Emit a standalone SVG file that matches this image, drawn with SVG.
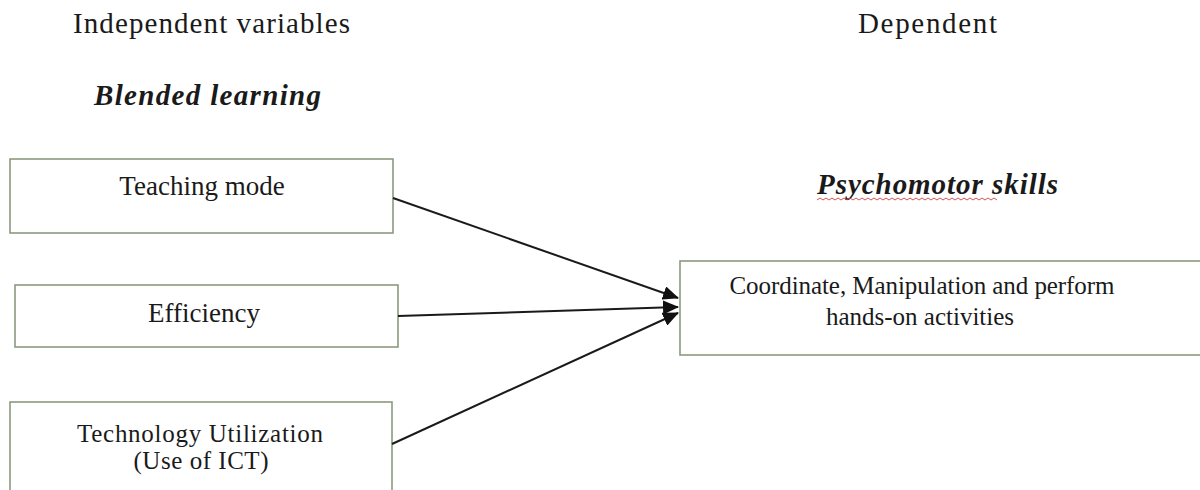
<svg xmlns="http://www.w3.org/2000/svg" width="1200" height="490" viewBox="0 0 1200 490">
<style>
.box{fill:#ffffff;stroke:#8c9a80;stroke-width:1.6}
.t{font-family:"Liberation Serif","Times New Roman",serif;fill:#1a1a1a;text-anchor:middle}
.h{font-family:"Liberation Serif","Times New Roman",serif;fill:#1a1a1a;font-size:29px}
.bi{font-weight:bold;font-style:italic}
.c{stroke:#1a1a1a;stroke-width:2;fill:none}
</style>
<defs>
<marker id="ah" markerWidth="16" markerHeight="14" refX="15" refY="7" orient="auto" markerUnits="userSpaceOnUse">
<path d="M0,0 L16,7 L0,14 Z" fill="#111"/>
</marker>
</defs>
<rect width="1200" height="490" fill="#ffffff"/>
<g id="headings">
<text class="h" x="73" y="33" textLength="277">Independent variables</text>
<text class="h" x="858" y="33" textLength="139">Dependent</text>
<text class="h bi" x="94" y="105" textLength="227">Blended learning</text>
<text class="h bi" x="817" y="194" textLength="241">Psychomotor skills</text>
<path d="M817,200 l3,-2 l3,2 l3,-2 l3,2 l3,-2 l3,2 l3,-2 l3,2 l3,-2 l3,2 l3,-2 l3,2 l3,-2 l3,2 l3,-2 l3,2 l3,-2 l3,2 l3,-2 l3,2 l3,-2 l3,2 l3,-2 l3,2 l3,-2 l3,2 l3,-2 l3,2 l3,-2 l3,2 l3,-2 l3,2 l3,-2 l3,2 l3,-2 l3,2 l3,-2 l3,2 l3,-2 l3,2 l3,-2 l3,2 l3,-2 l3,2 l3,-2 l3,2 l3,-2 l3,2 l3,-2 l3,2 l3,-2 l3,2 l3,-2 l3,2 l3,-2 l3,2 l3,-2 l3,2 l3,-2 l3,2" fill="none" stroke="#d04040" stroke-width="0.9"/>
</g>
<g id="teaching-mode">
<rect class="box" x="10" y="159" width="383" height="74"/>
<text class="t" x="202" y="195" font-size="27">Teaching mode</text>
</g>
<g id="efficiency">
<rect class="box" x="15" y="285" width="383" height="62"/>
<text class="t" x="204" y="322" font-size="27">Efficiency</text>
</g>
<g id="technology-utilization">
<rect class="box" x="10" y="402" width="382" height="100"/>
<text class="t" x="200" y="442" font-size="25" textLength="246">Technology Utilization</text>
<text class="t" x="201" y="469" font-size="25" textLength="135">(Use of ICT)</text>
</g>
<g id="psychomotor">
<rect class="box" x="680" y="261" width="530" height="94"/>
<text class="t" x="922" y="294" font-size="25" textLength="385">Coordinate, Manipulation and perform</text>
<text class="t" x="920" y="325" font-size="25">hands-on activities</text>
</g>
<g id="connectors">
<line class="c" x1="393" y1="198" x2="678" y2="298" marker-end="url(#ah)"/>
<line class="c" x1="398" y1="316" x2="678" y2="307" marker-end="url(#ah)"/>
<line class="c" x1="392" y1="444" x2="678" y2="313" marker-end="url(#ah)"/>
</g>
</svg>
